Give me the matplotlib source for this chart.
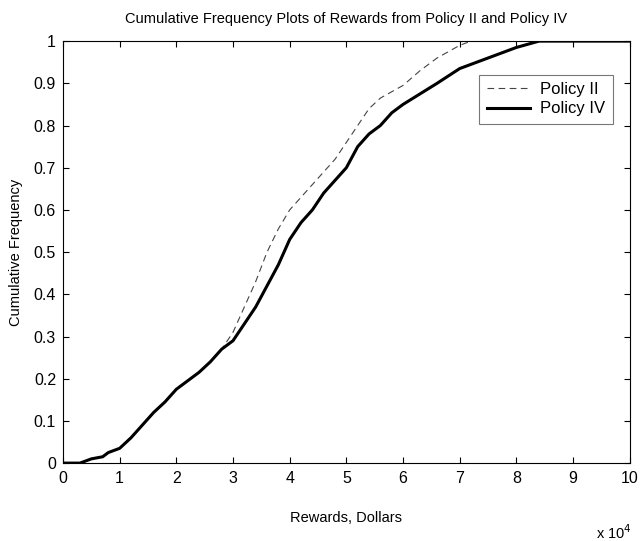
import matplotlib
matplotlib.use("Agg")
import matplotlib.pyplot as plt

plt.rcParams['font.family'] = ['Liberation Sans', 'DejaVu Sans']

# Rewards in units of 10^4 dollars
x_iv = [0.0, 0.3, 0.5, 0.7, 0.8, 1.0, 1.2, 1.4, 1.6, 1.8, 2.0, 2.2, 2.4, 2.6, 2.8,
        3.0, 3.2, 3.4, 3.6, 3.8, 4.0, 4.2, 4.4, 4.6, 4.8, 5.0, 5.2, 5.4, 5.6, 5.8,
        6.0, 6.3, 6.6, 7.0, 7.3, 7.6, 8.0, 8.4, 10.0]
y_iv = [0.0, 0.0, 0.01, 0.015, 0.025, 0.035, 0.06, 0.09, 0.12, 0.145, 0.175, 0.195,
        0.215, 0.24, 0.27, 0.29, 0.33, 0.37, 0.42, 0.47, 0.53, 0.57, 0.60, 0.64, 0.67,
        0.70, 0.75, 0.78, 0.80, 0.83, 0.85, 0.875, 0.90, 0.935, 0.95, 0.965, 0.985,
        1.0, 1.0]

x_ii = [0.0, 0.3, 0.5, 0.7, 0.8, 1.0, 1.2, 1.4, 1.6, 1.8, 2.0, 2.2, 2.4, 2.6, 2.8,
        3.0, 3.2, 3.4, 3.6, 3.8, 4.0, 4.2, 4.4, 4.6, 4.8, 5.0, 5.2, 5.4, 5.6, 5.8,
        6.0, 6.3, 6.6, 6.8, 7.0, 7.2, 10.0]
y_ii = [0.0, 0.0, 0.01, 0.015, 0.025, 0.035, 0.06, 0.09, 0.12, 0.145, 0.175, 0.195,
        0.215, 0.24, 0.27, 0.31, 0.37, 0.43, 0.50, 0.555, 0.60, 0.63, 0.66, 0.69, 0.72,
        0.76, 0.80, 0.84, 0.865, 0.88, 0.895, 0.93, 0.96, 0.975, 0.99, 1.0, 1.0]

x_ticks = [0, 1, 2, 3, 4, 5, 6, 7, 8, 9, 10]
y_ticks = [0, 0.1, 0.2, 0.3, 0.4, 0.5, 0.6, 0.7, 0.8, 0.9, 1]
y_ticklabels = ['0', '0.1', '0.2', '0.3', '0.4', '0.5', '0.6', '0.7', '0.8', '0.9', '1']

fig = plt.figure(figsize=(6.4, 5.41), dpi=100)
ax = fig.add_axes([0.0984, 0.144, 0.8856, 0.780])

ax.plot(x_ii, y_ii, linestyle=(0, (6, 4)), color='#444444', linewidth=0.8, label='Policy II')
ax.plot(x_iv, y_iv, linestyle='-', color='black', linewidth=2.2, label='Policy IV')

ax.set_xlim(0, 10)
ax.set_ylim(0, 1)
ax.set_xticks(x_ticks)
ax.set_xticklabels([str(t) for t in x_ticks])
ax.set_yticks(y_ticks)
ax.set_yticklabels(y_ticklabels)
ax.tick_params(direction='in', top=True, right=True, length=4, width=0.8, labelsize=11.5)
ax.tick_params(axis='x', pad=6)
ax.tick_params(axis='y', pad=5)
for s in ax.spines.values():
    s.set_linewidth(0.8)

ax.set_xlabel('Rewards, Dollars', fontsize=10.5, labelpad=18)
ax.set_ylabel('Cumulative Frequency', fontsize=10.5, labelpad=8)
ax.set_title('Cumulative Frequency Plots of Rewards from Policy II and Policy IV',
             fontsize=10.5, pad=13)

ax.text(1.003, -0.165, r'x 10$^4$', transform=ax.transAxes, ha='right', va='center', fontsize=10.5)

leg = ax.legend(loc='upper right', bbox_to_anchor=(0.985, 0.94), fontsize=12,
                frameon=True, fancybox=False, edgecolor='#555555', handlelength=2.6,
                borderpad=0.45, labelspacing=0.25, handletextpad=0.6)
leg.get_frame().set_linewidth(0.8)

fig.savefig('out.png', dpi=100)
